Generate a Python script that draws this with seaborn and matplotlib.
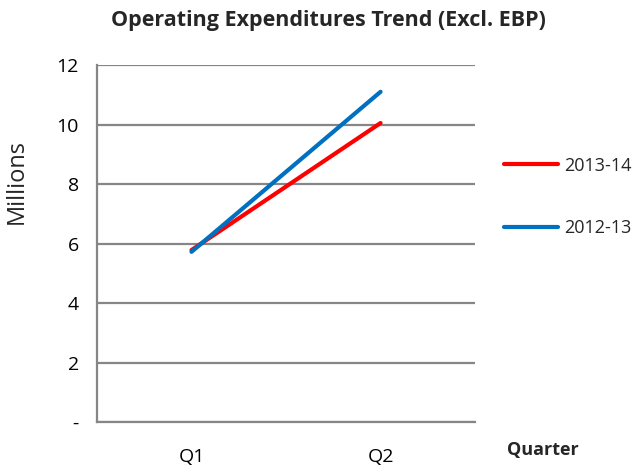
import numpy as np
import pandas as pd
import matplotlib
matplotlib.use('Agg')
import matplotlib.pyplot as plt
import seaborn as sns
from matplotlib.lines import Line2D

# ---- data ----
quarters = ['Q1', 'Q2']
series_names = ['2013-14', '2012-13']
vals_1314 = [5.78, 10.05]
vals_1213 = [5.72, 11.1]
colors = ['#FF0000', '#0070C0']
ytick_vals = [0, 2, 4, 6, 8, 10, 12]
ytick_labels = ['-', '2', '4', '6', '8', '10', '12']

df = pd.DataFrame({
    'Quarter': quarters * 2,
    'Value': vals_1314 + vals_1213,
    'Series': [series_names[0]] * 2 + [series_names[1]] * 2,
})

sns.set_style('white')
plt.rcParams['font.family'] = ['Open Sans', 'DejaVu Sans']

fig = plt.figure(figsize=(6.36, 4.69), dpi=100)
ax = fig.add_axes([0.1525, 0.1002, 0.5945, 0.7612])

sns.lineplot(data=df, x='Quarter', y='Value', hue='Series', hue_order=series_names,
             palette=colors, linewidth=3, ax=ax, legend=False,
             solid_capstyle='round')

ax.set_xlim(-0.5, 1.5)
ax.set_ylim(0, 12)
ax.set_yticks(ytick_vals)
ax.set_yticklabels(ytick_labels)
ax.tick_params(axis='both', length=0, labelsize=14, colors='black')
ax.tick_params(axis='y', pad=13)
ax.tick_params(axis='x', pad=19)
ax.yaxis.grid(True, color='#868686', linewidth=1.6)
ax.set_axisbelow(True)
for s in ['top', 'right']:
    ax.spines[s].set_visible(False)
for s in ['left', 'bottom']:
    ax.spines[s].set_color('#868686')
    ax.spines[s].set_linewidth(1.6)

ax.set_xlabel('')
ax.set_ylabel('Millions', fontsize=17)
ax.yaxis.set_label_coords(-0.18, 0.675)

fig.text(0.517, 0.956, 'Operating Expenditures Trend (Excl. EBP)', ha='center', va='center',
         fontsize=15.5, fontweight='bold')
fig.text(0.853, 0.04, 'Quarter', ha='center', va='center', fontsize=13, fontweight='bold')

handles = [Line2D([0], [0], color=c, lw=3, solid_capstyle='round') for c in colors]
fig.legend(handles, series_names, loc='center left', bbox_to_anchor=(0.767, 0.58),
           frameon=False, fontsize=13, handlelength=3.0, labelspacing=2.48, handletextpad=0.3)

fig.savefig('out.png', dpi=100)
